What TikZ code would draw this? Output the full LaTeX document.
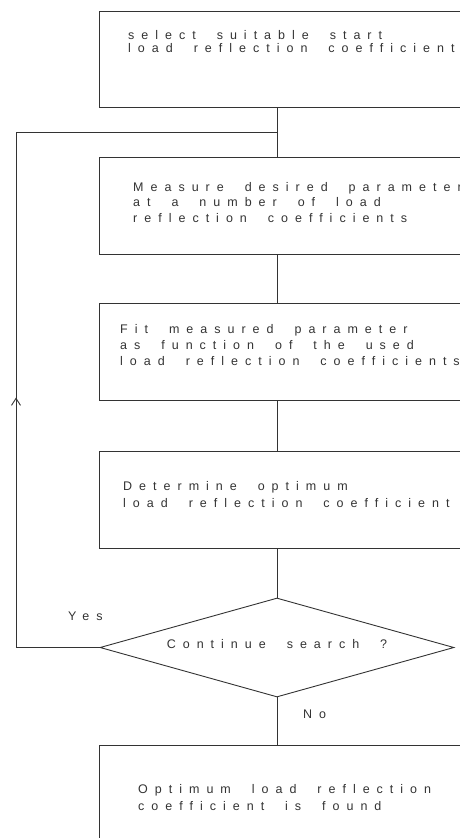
\documentclass[tikz,border=0pt]{standalone}
\usepackage{fontspec}
\setmainfont{Liberation Sans}
\newfontfamily\plotfont[LetterSpace=56,WordSpace=2.0]{Liberation Sans}
\usetikzlibrary{shapes.geometric,arrows.meta,decorations.markings}
\begin{document}
\begin{tikzpicture}[x=1pt,y=-1pt,
  line/.style={draw=black!80, line width=0.9pt},
  stepbox/.style={line, rectangle, minimum width=371pt, inner sep=0pt},
  decision/.style={line, diamond, minimum width=354pt, minimum height=99pt, inner sep=0pt},
  txt/.style={font=\plotfont\fontsize{12.5}{14}\selectfont, text=black!80, align=left, inner sep=0pt, anchor=base west},
  loopmark/.style={postaction={decorate}, decoration={markings,
    mark=at position 333.5pt with {\arrow{Straight Barb[length=7pt,width=9pt,line width=0.9pt]}}}},
]
\useasboundingbox (0,0) rectangle (460,838);
\clip (0,0) rectangle (460,838);

\node[stepbox, minimum height=96pt] (b1) at (284.5,59) {};
\node[stepbox, minimum height=97pt] (b2) at (284.5,205.5) {};
\node[stepbox, minimum height=97pt] (b3) at (284.5,351.5) {};
\node[stepbox, minimum height=97pt] (b4) at (284.5,499.5) {};
\node[decision] (dia) at (277,647.5) {};
\node[stepbox, minimum height=120pt] (b5) at (284.5,805) {};

% anchor base = baseline of the last line
\node[txt, font=\plotfont\fontsize{12.5}{13}\selectfont] (t1) at (128,52) {select suitable start\\load reflection coefficient};
\node[txt, font=\plotfont\fontsize{12.5}{15.5}\selectfont] (t2) at (133,222) {Measure desired parameter\\at a number of load\\reflection coefficients};
\node[txt, font=\plotfont\fontsize{12.5}{16}\selectfont] (t3) at (120,365) {Fit measured parameter\\as function of the used\\load reflection coefficients};
\node[txt, font=\plotfont\fontsize{12.5}{17}\selectfont] (t4) at (123,507) {Determine optimum\\load reflection coefficient};
\node[txt, font=\plotfont\fontsize{12.5}{17}\selectfont] (t5) at (138,810) {Optimum load reflection\\coefficient is found};
\node[txt, anchor=base] (dtxt) at (277,648) {Continue search ?};
\node[txt] (yes) at (68,620) {Yes};
\node[txt] (no) at (303,718) {No};

\coordinate (lb) at (16,647.5);
\coordinate (lt) at (16,132);
\coordinate (j) at (277,132);

\draw[line] (b1.south -| dia.north) -- (b2.north -| dia.north);
\draw[line] (b2.south -| dia.north) -- (b3.north -| dia.north);
\draw[line] (b3.south -| dia.north) -- (b4.north -| dia.north);
\draw[line] (b4.south -| dia.north) -- (dia.north);
\draw[line] (dia.south) -- (b5.north -| dia.south);
\draw[line, loopmark] (dia.west) -- (lb) -- (lt) -- (j);
\end{tikzpicture}
\end{document}
